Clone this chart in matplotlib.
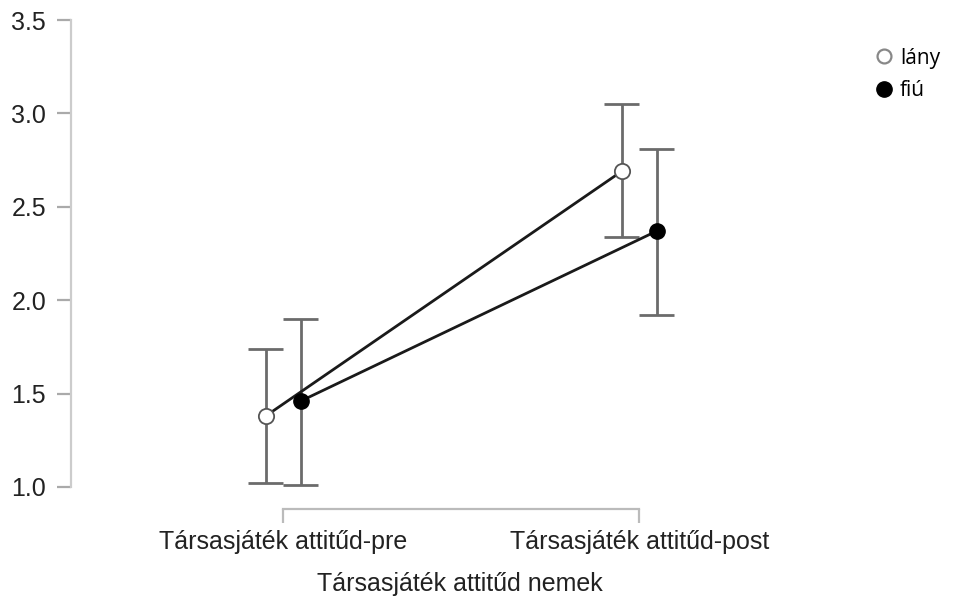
import matplotlib
matplotlib.use("Agg")
import matplotlib.pyplot as plt
from matplotlib.lines import Line2D

# Data
categories = ["Társasjáték attitűd-pre", "Társasjáték attitűd-post"]
groups = ["lány", "fiú"]
lany_mean = [1.38, 2.69]
lany_low = [1.02, 2.34]
lany_high = [1.74, 3.05]
fiu_mean = [1.46, 2.37]
fiu_low = [1.01, 1.92]
fiu_high = [1.90, 2.81]
yticks = [1.0, 1.5, 2.0, 2.5, 3.0, 3.5]
xlabel = "Társasjáték attitűd nemek"

W, H, DPI = 955, 600, 100
fig = plt.figure(figsize=(W / DPI, H / DPI), dpi=DPI)
fig.patch.set_facecolor("white")

# axes geometry in pixels
ax_left, ax_right = 71, 860
ax_top, ax_bottom = 10, 509
ax = fig.add_axes([ax_left / W, 1 - ax_bottom / H,
                   (ax_right - ax_left) / W, (ax_bottom - ax_top) / H])

# pixel scale helpers for limits
x0_px, x_step = 283.2, 356.0
y1_px, y_step = 487.0, 186.8  # px of y=1.0, px per unit
ax.set_xlim((ax_left - x0_px) / x_step, (ax_right - x0_px) / x_step)
ax.set_ylim(1 - (ax_bottom - y1_px) / y_step, 3.5 + (20 - ax_top) / y_step)

off = 17.5 / x_step
xs = list(range(len(categories)))
x_l = [x - off for x in xs]
x_f = [x + off for x in xs]

ebar_color = "#6b6b6b"
cap = 17.5 / x_step
for xv, lo, hi in list(zip(x_l, lany_low, lany_high)) + list(zip(x_f, fiu_low, fiu_high)):
    ax.plot([xv, xv], [lo, hi], color=ebar_color, lw=2.0, zorder=2, solid_capstyle="butt")
    ax.plot([xv - cap, xv + cap], [lo, lo], color=ebar_color, lw=2.0, zorder=2, solid_capstyle="butt")
    ax.plot([xv - cap, xv + cap], [hi, hi], color=ebar_color, lw=2.0, zorder=2, solid_capstyle="butt")

ax.plot(x_l, lany_mean, color="#1a1a1a", lw=2.0, zorder=3)
ax.plot(x_f, fiu_mean, color="#1a1a1a", lw=2.0, zorder=3)
ax.plot(x_l, lany_mean, linestyle="none", marker="o", markersize=11,
        markerfacecolor="white", markeredgecolor="#555555", markeredgewidth=1.3, zorder=4)
ax.plot(x_f, fiu_mean, linestyle="none", marker="o", markersize=11,
        markerfacecolor="black", markeredgecolor="black", zorder=4)

# spines
for s in ["top", "right"]:
    ax.spines[s].set_visible(False)
ax.spines["left"].set_bounds(1.0, 3.5)
ax.spines["left"].set_color("#cccccc")
ax.spines["left"].set_linewidth(1.6)
ax.spines["bottom"].set_bounds(0, 1)
ax.spines["bottom"].set_color("#bbbbbb")
ax.spines["bottom"].set_linewidth(1.6)

ax.set_yticks(yticks)
ax.set_yticklabels([f"{v:.1f}" for v in yticks], fontsize=18,
                   family="Liberation Sans", color="#222222")
ax.tick_params(axis="y", length=10, width=1.6, color="#aaaaaa", pad=8)
ax.set_xticks(xs)
ax.set_xticklabels(categories, fontsize=18, family="Liberation Sans", color="#222222")
ax.tick_params(axis="x", length=10, width=1.6, color="#bbbbbb", pad=5)

fig.text(460 / W, 1 - 584 / H, xlabel, ha="center", va="center",
         fontsize=18, family="Liberation Sans", color="#222222")

handles = [
    Line2D([], [], linestyle="none", marker="o", markersize=10,
           markerfacecolor="white", markeredgecolor="#888888", markeredgewidth=1.6),
    Line2D([], [], linestyle="none", marker="o", markersize=11,
           markerfacecolor="black", markeredgecolor="black"),
]
fig.legend(handles, groups, loc="upper left", bbox_to_anchor=(856 / W, 1 - 29 / H),
           frameon=False, handlelength=0.9, handletextpad=0.3, labelspacing=0.55,
           prop={"family": "Open Sans", "size": 15})

fig.savefig("out.png", dpi=DPI, facecolor="white")
